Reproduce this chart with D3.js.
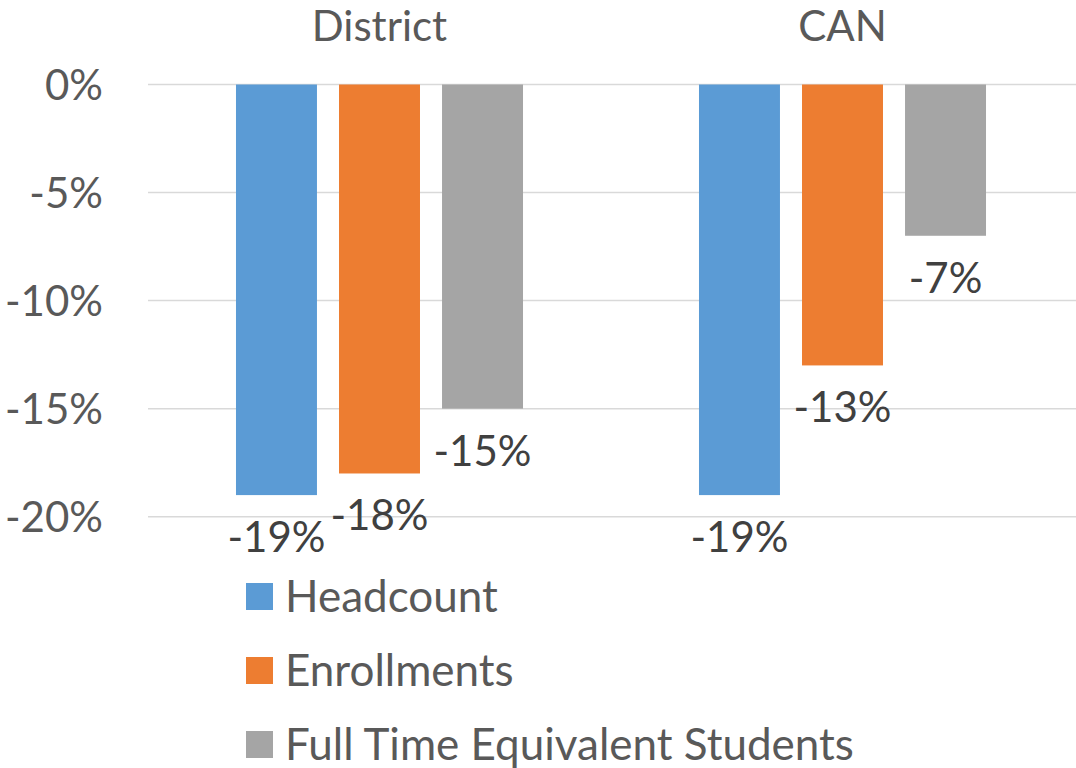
<!DOCTYPE html>
<html>
<head>
<meta charset="utf-8">
<script src="https://cdn.jsdelivr.net/npm/d3@7/dist/d3.min.js"></script>
<style>
  html, body { margin: 0; padding: 0; background: #ffffff; }
  svg { display: block; }
  text { font-family: Lato, "Open Sans", sans-serif; }
</style>
</head>
<body>
<svg id="chart" width="1076" height="768"></svg>
<script>
// ---- data ----
const categories = ["District", "CAN"];
const seriesNames = ["Headcount", "Enrollments", "Full Time Equivalent Students"];
const headcount = [-19, -19];
const enrollments = [-18, -13];
const fullTimeEquivalent = [-15, -7];
const yTicks = [0, -5, -10, -15, -20];
const colors = ["#5B9BD5", "#ED7D31", "#A5A5A5"];

const seriesValues = [headcount, enrollments, fullTimeEquivalent];

const svg = d3.select("#chart");
const W = 1076, H = 768;
const plot = { left: 148, right: 1074, top: 84.5, bottom: 516.7 };
const fontSize = 42;
const legendFontSize = 44;
const axisColor = "#595959";
const labelColor = "#404040";

const y = d3.scaleLinear().domain([0, -20]).range([plot.top, plot.bottom]);
const x0 = d3.scaleBand().domain(categories).range([plot.left, plot.right]).paddingInner(0).paddingOuter(0);
const x1 = d3.scaleBand().domain(seriesNames).range([0, x0.bandwidth()]).paddingInner(0.214).paddingOuter(0.854);

// gridlines
svg.append("g").selectAll("line").data(yTicks).join("line")
  .attr("x1", plot.left).attr("x2", W)
  .attr("y1", d => y(d)).attr("y2", d => y(d))
  .attr("stroke", "#d9d9d9").attr("stroke-width", 1.5);

// y-axis labels
svg.append("g").selectAll("text").data(yTicks).join("text")
  .attr("x", 103).attr("y", d => y(d)).attr("dy", "0.36em")
  .attr("text-anchor", "end")
  .attr("font-size", fontSize).attr("fill", axisColor)
  .text(d => d + "%");

// category labels (top)
svg.append("g").selectAll("text").data(categories).join("text")
  .attr("x", d => x0(d) + x0.bandwidth() / 2)
  .attr("y", 41)
  .attr("text-anchor", "middle")
  .attr("font-size", fontSize).attr("fill", axisColor)
  .text(d => d);

// bars
const flat = [];
categories.forEach((c, ci) => {
  seriesNames.forEach((s, si) => {
    flat.push({ cat: c, series: s, si: si, value: seriesValues[si][ci] });
  });
});

svg.append("g").selectAll("rect").data(flat).join("rect")
  .attr("x", d => x0(d.cat) + x1(d.series))
  .attr("width", x1.bandwidth())
  .attr("y", d => y(0))
  .attr("height", d => y(d.value) - y(0))
  .attr("fill", d => colors[d.si]);

// data labels
svg.append("g").selectAll("text").data(flat).join("text")
  .attr("x", d => x0(d.cat) + x1(d.series) + x1.bandwidth() / 2)
  .attr("y", d => y(d.value) + 57)
  .attr("text-anchor", "middle")
  .attr("font-size", fontSize).attr("fill", labelColor)
  .text(d => d.value + "%");

// legend
const legend = svg.append("g").selectAll("g").data(seriesNames).join("g")
  .attr("transform", (d, i) => `translate(246, ${583 + i * 74})`);
legend.append("rect").attr("width", 27).attr("height", 27)
  .attr("fill", (d, i) => colors[i]);
legend.append("text").attr("x", 39).attr("y", 28.5)
  .attr("font-size", legendFontSize).attr("fill", axisColor)
  .text(d => d);
</script>
</body>
</html>
